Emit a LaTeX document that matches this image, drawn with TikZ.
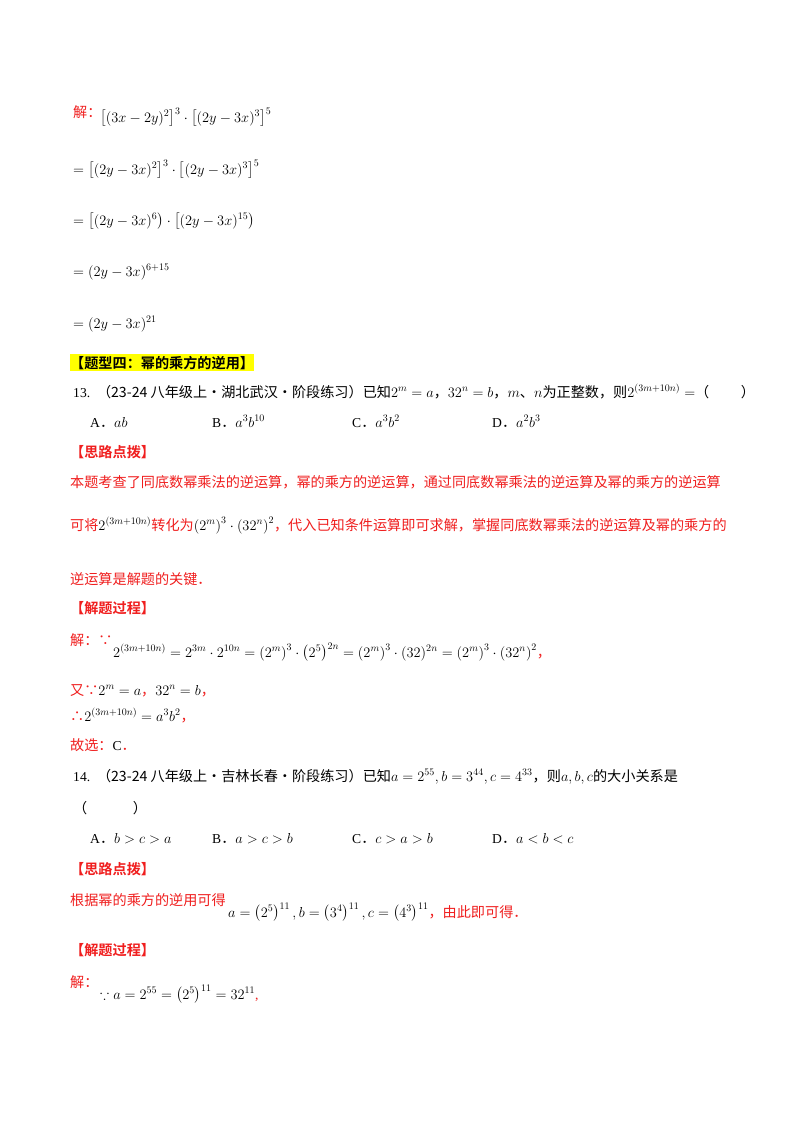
\documentclass[tikz,border=0pt]{standalone}
\usepackage{amsmath,amssymb}
\usepackage{fontspec}
\setmainfont{Liberation Serif}
\newfontfamily\cjk[Scale=1.04]{Noto Sans CJK SC}
\newfontfamily\cjkb[Scale=1.04]{Noto Sans CJK SC Bold}
\newcommand{\zh}[1]{{\cjk #1}}
\definecolor{myred}{RGB}{240,30,30}
\definecolor{hl}{RGB}{255,255,0}
\begin{document}
\begin{tikzpicture}[x=1pt,y=-1pt,
  txt/.style={anchor=base west,inner sep=0pt,font=\fontsize{13.6}{15}\selectfont},
  rtxt/.style={txt,text=myred},
  head/.style={anchor=base west,inner sep=0pt,font=\fontsize{13.6}{15}\selectfont\cjkb,text=myred}]
\useasboundingbox (0,0) rectangle (800,1132);
\fill[white] (0,0) rectangle (800,1132);
% worked solution
\node[rtxt] (j1) at (73,117) {\zh{解：}};
\node[txt] (e1) at (100,122) {$\left[(3x-2y)^{2}\right]^{3}\cdot\left[(2y-3x)^{3}\right]^{5}$};
\node[txt] (e2) at (73,174) {$=\left[(2y-3x)^{2}\right]^{3}\cdot\left[(2y-3x)^{3}\right]^{5}$};
\node[txt] (e3) at (73,225) {$=\left[(2y-3x)^{6}\right)\cdot\left[(2y-3x)^{15}\right)$};
\node[txt] (e4) at (73,276) {$=(2y-3x)^{6+15}$};
\node[txt] (e5) at (73,328) {$=(2y-3x)^{21}$};
% heading
\node[anchor=base west,inner xsep=0pt,inner ysep=2pt,fill=hl,font=\fontsize{13.6}{15}\selectfont\cjkb] (h4) at (70,368) {【题型四：幂的乘方的逆用】};
% Q13
\node[txt] (q13) at (73,397) {13.\ \ \zh{（23-24 八年级上·湖北武汉·阶段练习）已知}$2^m=a$\zh{，}$32^n=b$\zh{，}$m$\zh{、}$n$\zh{为正整数，则}$2^{(3m+10n)}=$\zh{（\qquad\ ）}};
\node[txt] (oA) at (90,427) {A\zh{．}$ab$};
\node[txt] (oB) at (212,427) {B\zh{．}$a^3b^{10}$};
\node[txt] (oC) at (352,427) {C\zh{．}$a^3b^2$};
\node[txt] (oD) at (492,427) {D\zh{．}$a^2b^3$};
\node[head] (s1) at (70,457) {【思路点拨】};
\node[rtxt] (p1) at (70,487) {\zh{本题考查了同底数幂乘法的逆运算，幂的乘方的逆运算，通过同底数幂乘法的逆运算及幂的乘方的逆运算}};
\node[rtxt] (p2) at (70,530) {\zh{可将}\textcolor{black}{$2^{(3m+10n)}$}\zh{转化为}\textcolor{black}{$\left(2^m\right)^3\cdot\left(32^n\right)^2$}\zh{，代入已知条件运算即可求解，掌握同底数幂乘法的逆运算及幂的乘方的}};
\node[rtxt] (p3) at (70,584) {\zh{逆运算是解题的关键．}};
\node[head] (g1) at (70,613) {【解题过程】};
\node[rtxt] (j2) at (70,645) {\zh{解：∵}};
\node[txt] (e6) at (113,657) {$2^{(3m+10n)}=2^{3m}\cdot2^{10n}=\left(2^m\right)^3\cdot\left(2^5\right)^{2n}=\left(2^m\right)^3\cdot(32)^{2n}=\left(2^m\right)^3\cdot\left(32^n\right)^2$\textcolor{myred}{\zh{，}}};
\node[rtxt] (y1) at (70,695) {\zh{又∵}\textcolor{black}{$2^m=a$}\zh{，}\textcolor{black}{$32^n=b$}\zh{，}};
\node[rtxt] (y2) at (70,721) {\zh{∴}\textcolor{black}{$2^{(3m+10n)}=a^3b^2$}\zh{，}};
\node[rtxt] (y3) at (70,750) {\zh{故选：}\textcolor{black}{C}\zh{．}};
% Q14
\node[txt] (q14) at (73,781) {14.\ \ \zh{（23-24 八年级上·吉林长春·阶段练习）已知}$a=2^{55},b=3^{44},c=4^{33}$\zh{，则}$a,b,c$\zh{的大小关系是}};
\node[txt] (q14b) at (73,813) {\zh{（\qquad\quad\ ）}};
\node[txt] (pA) at (90,843) {A\zh{．}$b>c>a$};
\node[txt] (pB) at (212,843) {B\zh{．}$a>c>b$};
\node[txt] (pC) at (352,843) {C\zh{．}$c>a>b$};
\node[txt] (pD) at (492,843) {D\zh{．}$a<b<c$};
\node[head] (s2) at (70,874) {【思路点拨】};
\node[rtxt] (p4) at (70,905) {\zh{根据幂的乘方的逆用可得}};
\node[txt] (e7) at (228,917) {$a=\left(2^5\right)^{11},b=\left(3^4\right)^{11},c=\left(4^3\right)^{11}$\textcolor{myred}{\zh{，由此即可得．}}};
\node[head] (g2) at (70,955) {【解题过程】};
\node[rtxt] (j3) at (70,987) {\zh{解：}};
\node[txt] (e8) at (100,999) {$\because a=2^{55}=\left(2^5\right)^{11}=32^{11}$\textcolor{myred}{,}};
\end{tikzpicture}
\end{document}
